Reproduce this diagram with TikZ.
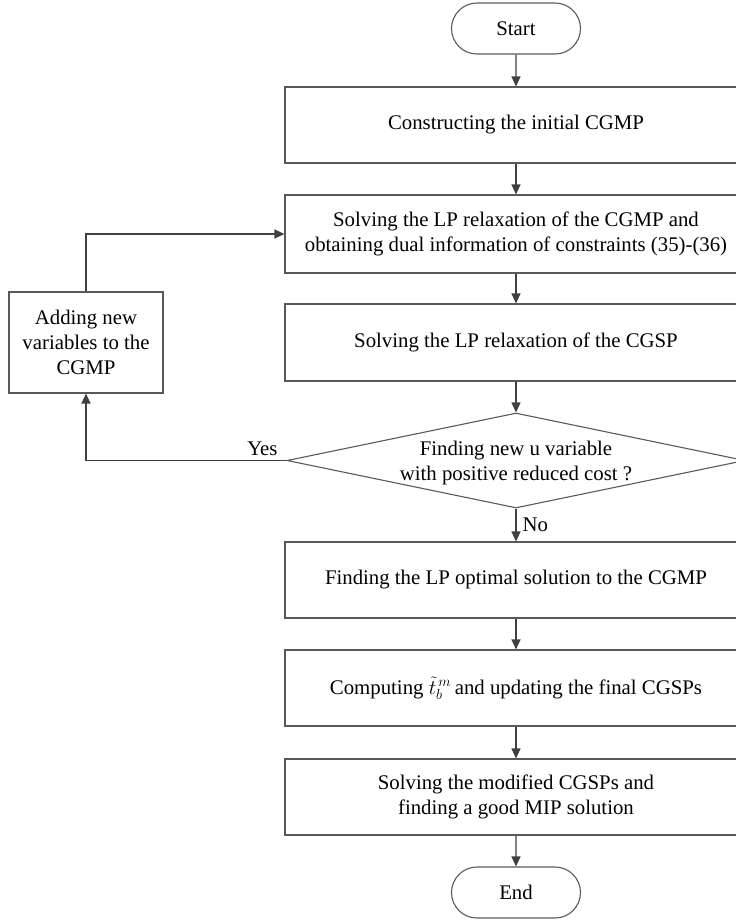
\documentclass[tikz,border=0pt]{standalone}
\usepackage{fontspec}
\setmainfont{Liberation Serif}
\usetikzlibrary{shapes.geometric,shapes.misc,arrows.meta}
\begin{document}
\begin{tikzpicture}[x=1pt,y=-1pt,
  every node/.style={font=\fontsize{20.8}{25}\selectfont, text=black},
  procbox/.style={draw=black!65, line width=1.1pt, rectangle, minimum width=462pt, inner sep=0pt, align=center},
  termbox/.style={draw=black!65, line width=1.1pt, rounded rectangle, minimum width=129pt, minimum height=51pt, inner sep=0pt},
  decbox/.style={draw=black!65, line width=1.1pt, diamond, aspect=4.8, minimum width=458pt, minimum height=95pt, inner sep=0pt},
  flow/.style={draw=black!75, line width=1.2pt, -{Triangle[length=10pt,width=9pt]}},
  lbl/.style={font=\fontsize{20.8}{25}\selectfont}
]
\useasboundingbox (0,0) rectangle (736,922);
\node[termbox] (start) at (516,28.5) {Start};
\node[procbox, minimum height=76pt] (b1) at (516,125) {Constructing the initial CGMP};
\node[procbox, minimum height=78pt] (b2) at (516,234) {Solving the LP relaxation of the CGMP and\\obtaining dual information of constraints (35)-(36)};
\node[procbox, minimum height=77pt] (b3) at (516,342.5) {Solving the LP relaxation of the CGSP};
\node[decbox] (dec) at (516,460.5) {};
\node[align=center, inner sep=0pt] (dectext) at (516,463) {Finding new u variable\\with positive reduced cost ?};
\node[procbox, minimum height=76pt] (b4) at (516,580) {Finding the LP optimal solution to the CGMP};
\node[procbox, minimum height=76pt] (b5) at (516,688) {Computing $\tilde{t}_b^{\,m}$\,and updating the final CGSPs};
\node[procbox, minimum height=76pt] (b6) at (516,797) {Solving the modified CGSPs and\\finding a good MIP solution};
\node[termbox] (end) at (516,892.5) {End};
\node[draw=black!65, line width=1.1pt, rectangle, minimum width=154pt, minimum height=101pt, inner sep=0pt, align=center] (add) at (86,342.5) {Adding new\\variables to the\\CGMP};

\draw[flow] (start) -- (b1);
\draw[flow] (b1) -- (b2);
\draw[flow] (b2) -- (b3);
\draw[flow] (b3) -- (dec.north);
\draw[flow] (dec.south) -- node[lbl, right, inner sep=6pt] (no) {No} (b4);
\draw[flow] (b4) -- (b5);
\draw[flow] (b5) -- (b6);
\draw[flow] (b6) -- (end);
\draw[flow] (dec.west) -| node[lbl, pos=0.06, above, inner sep=4pt] (yes) {Yes} (add.south);
\draw[flow] (add.north) |- (b2.west);
\end{tikzpicture}
\end{document}
